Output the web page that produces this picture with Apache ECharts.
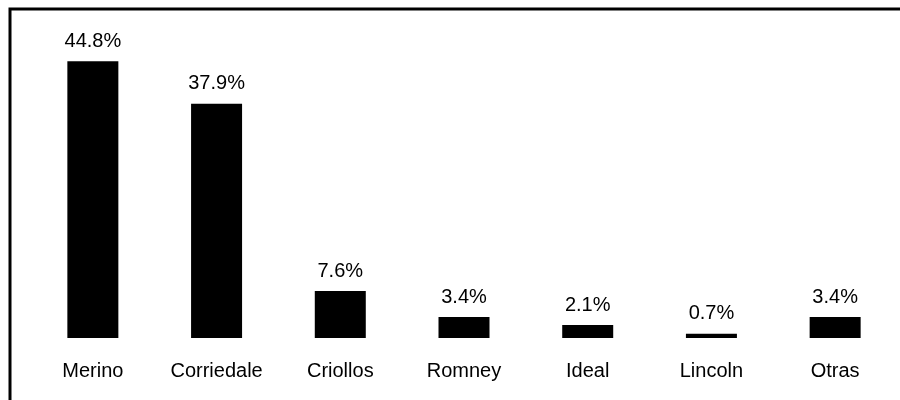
<!DOCTYPE html>
<html><head><meta charset="utf-8">
<script src="https://cdn.jsdelivr.net/npm/echarts@6/dist/echarts.min.js"></script>
<style>html,body{margin:0;padding:0;background:#fff}#c{width:900px;height:400px}</style>
</head><body><div id="c"></div>
<script>
const categories = ["Merino","Corriedale","Criollos","Romney","Ideal","Lincoln","Otras"];
const values = [44.8, 37.9, 7.6, 3.4, 2.1, 0.7, 3.4];
const chart = echarts.init(document.getElementById('c'), null, {renderer:'canvas'});
chart.setOption({
  animation:false,
  backgroundColor:'#fff',
  graphic:[{type:'rect',shape:{x:10,y:9,width:1000,height:1000},style:{fill:'none',stroke:'#000',lineWidth:3},z:10}],
  grid:{left:31,right:3,top:29,bottom:62},
  xAxis:{type:'category',data:categories,axisLine:{show:false},axisTick:{show:false},
    axisLabel:{color:'#000',fontFamily:'Liberation Sans, Arial',fontSize:20,margin:23}},
  yAxis:{type:'value',min:0,max:50,show:false,splitLine:{show:false}},
  series:[{type:'bar',data:values,barWidth:51,itemStyle:{color:'#000'},
    label:{show:true,position:'top',distance:10,color:'#000',fontFamily:'Liberation Sans, Arial',fontSize:20,
      formatter:p=>p.value.toFixed(1)+'%'}}]
});
</script></body></html>
